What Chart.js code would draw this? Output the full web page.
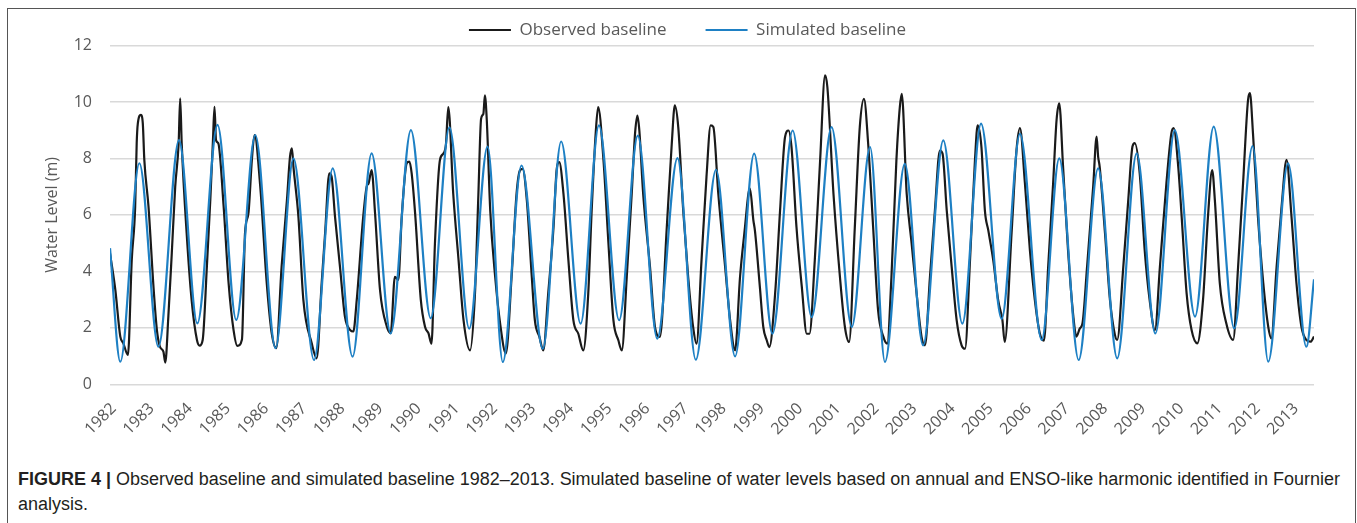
<!DOCTYPE html>
<html>
<head>
<meta charset="utf-8">
<script src="https://cdn.jsdelivr.net/npm/chart.js@4.4.1/dist/chart.umd.min.js"></script>
<style>
html,body{margin:0;padding:0;background:#fff;}
body{width:1357px;height:523px;overflow:hidden;position:relative;}
#frame{position:absolute;left:7px;top:8px;width:1349px;height:560px;border:1px solid #555;box-sizing:border-box;}
#c{position:absolute;left:0;top:0;}
#caption{position:absolute;left:18px;top:467px;font-family:"Liberation Sans Narrow","Liberation Sans",Arial,sans-serif;font-size:18px;line-height:25px;color:#231f20;white-space:nowrap;transform-origin:0 0;}
#caption b{font-weight:bold;}
</style>
</head>
<body>
<div id="frame"></div>
<canvas id="c" width="1357" height="440"></canvas>
<div id="caption"><span id="line1"><b>FIGURE 4 |</b> Observed baseline and simulated baseline 1982–2013. Simulated baseline of water levels based on annual and ENSO-like harmonic identified in Fournier</span><br>analysis.</div>
<script>
// Tick labels (one per axis year position)
const yearLabels = ['1982','1983','1984','1985','1986','1987','1988','1989','1990','1991','1992','1993','1994','1995','1996','1997','1998','1999','2000','2001','2002','2003','2004','2005','2006','2007','2008','2009','2010','2011','2012','2013'];

// Simulated baseline: positions along the year axis (0 = 1982 label) and water level (m)
const simT = [-0.03,0.24,0.74,1.24,1.78,2.26,2.79,3.28,3.78,4.31,4.78,5.32,5.81,6.33,6.83,7.33,7.86,8.38,8.87,9.39,9.87,10.27,10.76,11.32,11.80,12.31,12.79,13.32,13.81,14.32,14.85,15.33,15.86,16.36,16.86,17.34,17.87,18.37,18.89,19.42,19.90,20.29,20.81,21.29,21.82,22.32,22.81,23.35,23.83,24.40,24.86,25.37,25.88,26.38,26.89,27.38,27.89,28.42,28.91,29.45,29.93,30.34,30.86,31.34,31.54];
const simV = [4.82,0.80,7.83,1.33,8.65,2.16,9.19,2.28,8.83,1.28,8.00,0.86,7.65,0.98,8.18,1.80,9.00,2.34,9.10,1.97,8.42,0.79,7.75,1.26,8.60,2.15,9.17,2.27,8.81,1.62,8.01,0.87,7.60,0.99,8.17,1.79,8.99,2.38,9.11,2.03,8.40,0.79,7.81,1.38,8.64,2.15,9.23,2.32,8.87,1.57,8.00,0.86,7.65,0.92,8.18,1.80,9.00,2.40,9.13,1.98,8.44,0.80,7.83,1.33,3.72];

// Observed baseline
const obsT = [-0.03,0.11,0.24,0.32,0.44,0.54,0.63,0.67,0.70,0.78,0.83,0.87,0.98,1.11,1.20,1.28,1.37,1.42,1.50,1.59,1.68,1.77,1.81,1.85,1.98,
2.11,2.25,2.32,2.40,2.51,2.60,2.67,2.71,2.75,2.81,2.95,3.08,3.21,3.31,3.43,3.51,3.60,3.69,3.76,3.91,
4.08,4.21,4.33,4.47,4.61,4.69,4.74,4.78,4.91,5.04,5.26,5.39,5.52,5.61,5.72,5.78,5.87,
6.00,6.13,6.27,6.35,6.44,6.61,6.70,6.75,6.83,6.92,7.05,7.23,7.33,7.44,7.53,7.62,7.75,7.82,7.88,7.97,
8.12,8.23,8.32,8.40,8.49,8.62,8.71,8.78,8.84,8.97,9.11,9.24,9.41,9.54,9.63,9.70,9.76,9.80,9.85,9.94,
10.07,10.20,10.35,10.50,10.63,10.72,10.79,10.90,11.03,11.11,11.23,11.33,11.46,11.60,11.68,11.75,11.86,11.99,
12.12,12.25,12.38,12.51,12.60,12.71,12.77,12.91,13.04,13.17,13.30,13.39,13.52,13.65,13.74,13.80,13.85,13.95,
14.13,14.26,14.39,14.57,14.70,14.78,14.87,15.00,15.13,15.26,15.35,15.48,15.61,15.72,15.79,15.92,
16.10,16.23,16.36,16.49,16.62,16.71,16.75,16.84,16.88,17.01,17.10,17.19,17.26,17.41,17.54,17.67,17.76,17.84,17.97,
18.11,18.24,18.31,18.45,18.59,18.72,18.78,18.94,19.11,19.24,19.35,19.50,19.63,19.74,19.85,19.98,
20.11,20.25,20.35,20.46,20.59,20.68,20.73,20.86,20.99,21.12,21.25,21.34,21.47,21.60,21.73,21.80,21.91,
22.04,22.17,22.30,22.39,22.52,22.65,22.72,22.82,22.91,23.00,23.13,23.26,23.37,23.43,23.61,23.74,23.83,23.96,
24.09,24.22,24.35,24.46,24.57,24.70,24.79,24.86,24.96,25.09,25.23,25.31,25.40,25.47,25.59,25.75,25.84,25.88,25.92,
26.06,26.19,26.32,26.38,26.54,26.67,26.78,26.84,26.97,27.10,27.23,27.37,27.50,27.67,27.80,27.86,27.98,
28.07,28.20,28.33,28.48,28.63,28.76,28.87,28.94,29.07,29.24,29.42,29.55,29.68,29.81,29.86,29.94,
30.07,30.21,30.34,30.42,30.56,30.69,30.82,30.95,31.08,31.21,31.34,31.45,31.54];
const obsV = [4.64,3.34,1.69,1.45,1.04,4.40,6.29,8.54,9.24,9.54,9.24,7.95,6.29,3.46,1.92,1.33,1.16,0.77,2.40,4.64,7.00,8.54,10.13,8.54,5.35,
2.99,1.57,1.37,1.57,4.17,6.53,8.65,9.83,8.65,8.54,6.29,3.58,1.92,1.36,1.59,5.35,6.06,7.95,8.83,7.00,
3.58,1.81,1.28,4.17,6.53,8.06,8.36,7.71,5.94,2.99,1.45,0.92,3.58,5.35,7.47,7.36,5.94,
4.17,2.40,1.92,1.87,2.99,5.94,7.00,7.12,7.59,6.06,3.34,2.04,1.81,3.81,3.70,5.94,7.83,7.89,7.47,6.06,
2.99,2.04,1.81,1.44,4.98,7.93,8.17,8.52,9.82,6.75,4.39,2.27,1.20,3.21,6.75,9.40,9.58,10.23,9.35,6.16,
3.80,2.15,1.09,3.80,6.75,7.58,7.63,6.51,3.80,2.27,1.68,1.20,3.21,5.57,7.58,7.87,6.75,4.39,
2.27,1.79,1.20,3.21,6.16,8.99,9.82,7.93,4.98,2.27,1.56,1.20,3.80,6.75,8.93,9.52,8.99,6.75,
4.15,2.03,1.68,5.57,8.52,9.88,9.11,6.16,3.80,2.03,1.44,4.39,7.34,9.17,9.11,6.75,
4.15,2.27,1.20,3.80,5.57,6.75,6.93,5.81,5.45,3.45,2.03,1.56,1.32,3.21,6.16,8.76,8.99,8.40,5.57,
3.45,1.79,1.79,4.39,7.93,10.94,10.53,6.75,3.80,2.03,1.50,5.57,9.11,10.11,8.52,5.57,
2.62,1.68,1.44,3.80,7.93,9.82,10.29,6.75,4.98,3.21,1.68,1.38,3.80,6.16,8.28,8.17,6.16,
4.15,2.27,1.38,1.26,4.39,7.93,9.17,8.40,6.16,5.45,4.39,2.97,2.27,1.50,5.35,8.30,9.07,7.12,
4.76,2.99,1.81,1.55,4.17,7.12,9.36,9.95,7.71,4.76,2.40,1.69,1.98,2.16,4.17,7.00,8.77,8.06,7.71,
5.35,2.99,1.75,1.57,4.17,6.53,8.42,8.54,7.47,4.76,2.99,1.92,4.17,7.12,8.89,9.07,7.71,
5.94,3.22,1.92,1.45,2.99,5.94,7.59,6.53,3.58,2.16,1.57,4.17,7.12,10.07,10.31,8.89,
5.94,3.58,2.04,1.63,4.17,6.29,7.95,5.94,3.58,2.04,1.57,1.51,1.69];

const seriesNames = ['Observed baseline', 'Simulated baseline'];

const toPoints = (t, v) => t.map((x, i) => ({x: x, y: v[i]}));

Chart.defaults.font.family = "'Open Sans', 'Liberation Sans', sans-serif";
Chart.defaults.color = '#595959';

new Chart(document.getElementById('c'), {
  type: 'line',
  data: {
    datasets: [
      {
        label: seriesNames[0],
        data: toPoints(obsT, obsV),
        borderColor: '#1a1a1a',
        backgroundColor: '#1a1a1a',
        borderWidth: 2.2,
        pointRadius: 0,
        cubicInterpolationMode: 'monotone',
        fill: false,
        order: 1
      },
      {
        label: seriesNames[1],
        data: toPoints(simT, simV),
        borderColor: '#1e80c4',
        backgroundColor: '#1e80c4',
        borderWidth: 2.2,
        pointRadius: 0,
        cubicInterpolationMode: 'monotone',
        fill: false,
        order: 0
      }
    ]
  },
  options: {
    responsive: false,
    animation: false,
    events: [],
    layout: { padding: { top: -17.5, left: 61, right: 43, bottom: 0 } },
    plugins: {
      tooltip: { enabled: false },
      legend: {
        position: 'top',
        maxHeight: 63,
        labels: {
          usePointStyle: true,
          pointStyle: 'line',
          pointStyleWidth: 42,
          padding: 39,
          color: '#595959',
          font: { size: 17 },
          sort: (a, b) => a.datasetIndex - b.datasetIndex
        }
      }
    },
    scales: {
      x: {
        type: 'linear',
        min: -0.03,
        max: 31.54,
        afterBuildTicks: (scale) => { scale.ticks = yearLabels.map((_, i) => ({ value: i })); },
        afterFit: (scale) => { scale.height = 55.7; },
        grid: { display: false, drawTicks: false },
        border: { display: false },
        ticks: {
          autoSkip: false,
          minRotation: 45,
          maxRotation: 45,
          padding: 15,
          labelOffset: 2.5,
          color: '#595959',
          font: { size: 16 },
          callback: (value) => yearLabels[value]
        }
      },
      y: {
        min: 0,
        max: 12,
        afterFit: (scale) => { scale.width = 49; },
        grid: { color: '#d9d9d9', lineWidth: 1.5, drawTicks: false },
        border: { display: false },
        ticks: { stepSize: 2, padding: 18, color: '#595959', font: { size: 16 } },
        title: {
          display: true,
          text: 'Water Level (m)',
          color: '#595959',
          font: { size: 16 },
          padding: { top: -18.6, bottom: 0 }
        }
      }
    }
  }
});

// fit caption first line to the figure width
(function () {
  const cap = document.getElementById('caption');
  const l1 = document.getElementById('line1');
  const w = l1.getBoundingClientRect().width;
  if (w > 0) cap.style.transform = 'scaleX(' + (1322 / w) + ')';
})();
</script>
</body>
</html>
